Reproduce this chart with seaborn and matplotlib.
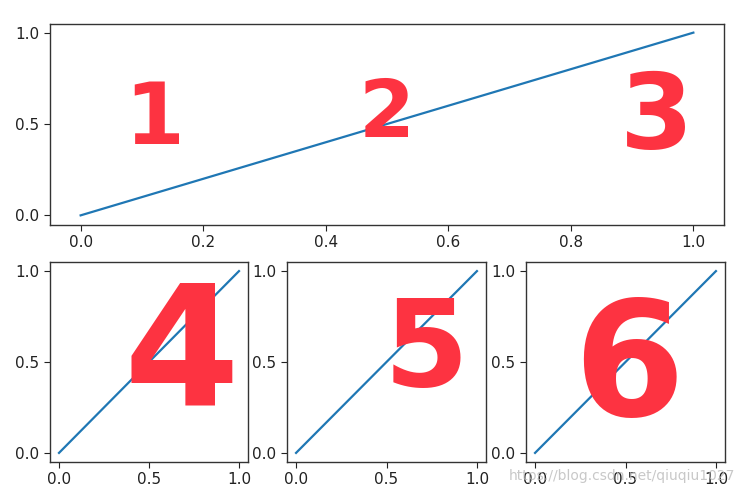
import numpy as np
import pandas as pd
import seaborn as sns
import matplotlib
matplotlib.use("Agg")
import matplotlib.pyplot as plt

# Data
x_vals = [0.0, 1.0]
y_vals = [0.0, 1.0]
top_xticks = [0.0, 0.2, 0.4, 0.6, 0.8, 1.0]
bottom_xticks = [0.0, 0.5, 1.0]
yticks = [0.0, 0.5, 1.0]
panel_labels = ["1", "2", "3", "4", "5", "6"]

df = pd.DataFrame({"x": x_vals, "y": y_vals})

plt.rcParams['font.family'] = ['DejaVu Sans']
fig = plt.figure(figsize=(7.43, 4.93), dpi=100)

W, H = 743.0, 493.0
def rect(l, t, r, b):
    return [l / W, 1 - b / H, (r - l) / W, (b - t) / H]

ax_top = fig.add_axes(rect(50, 23.5, 724, 224.5))
ax4 = fig.add_axes(rect(50, 262, 248, 462))
ax5 = fig.add_axes(rect(287, 262, 486, 462))
ax6 = fig.add_axes(rect(526, 262, 725, 462))

line_color = "#1f77b4"
for ax in [ax_top, ax4, ax5, ax6]:
    sns.lineplot(data=df, x="x", y="y", ax=ax, color=line_color, linewidth=1.6)
    ax.set_xlabel("")
    ax.set_ylabel("")
    ax.set_yticks(yticks)
    ax.set_yticklabels([f"{v:.1f}" for v in yticks])
    ax.tick_params(labelsize=11, colors="#222222", length=4)
    for s in ax.spines.values():
        s.set_color("#333333")
        s.set_linewidth(1.0)

ax_top.set_xticks(top_xticks)
ax_top.set_xticklabels([f"{v:.1f}" for v in top_xticks])
for ax in [ax4, ax5, ax6]:
    ax.set_xticks(bottom_xticks)
    ax.set_xticklabels([f"{v:.1f}" for v in bottom_xticks])

red = "#fd3341"
kw = dict(color=red, fontweight="bold", ha="center", va="center", zorder=5, clip_on=False)
ax_top.text(0.12, 0.52, panel_labels[0], fontsize=62, **kw)
ax_top.text(0.50, 0.55, panel_labels[1], fontsize=58, **kw)
ax_top.text(0.94, 0.52, panel_labels[2], fontsize=76, **kw)
ax4.text(0.68, 0.52, panel_labels[3], fontsize=120, **kw)
ax5.text(0.72, 0.55, panel_labels[4], fontsize=88, **kw)
ax6.text(0.52, 0.45, panel_labels[5], fontsize=115, **kw)

fig.text(0.99, 0.035, "https://blog.csdn.net/qiuqiu1027", ha="right", va="center",
         fontsize=10, color="#bbbbbb", alpha=0.8)

fig.savefig("out.png", dpi=100)
